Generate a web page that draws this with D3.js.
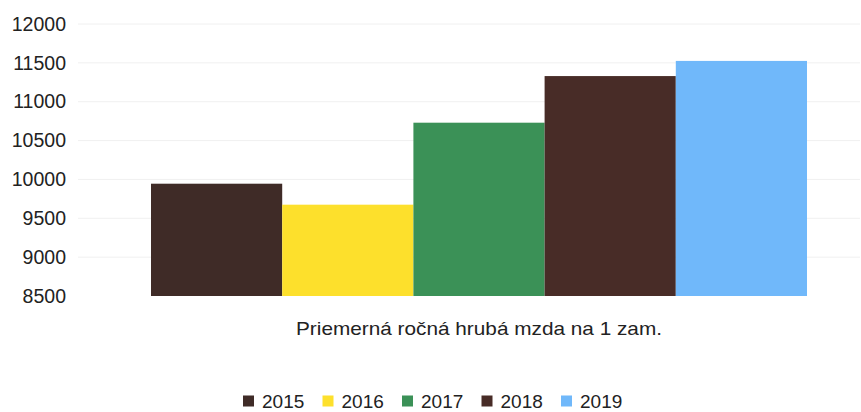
<!DOCTYPE html>
<html>
<head>
<meta charset="utf-8">
<script src="https://cdn.jsdelivr.net/npm/d3@7"></script>
<style>
  body { margin: 0; background: #fff; }
  svg text { font-family: "Liberation Sans", Arial, sans-serif; fill: #222; }
</style>
</head>
<body>
<svg id="chart" width="861" height="412"></svg>
<script>
// data
const category = ['Priemerná ročná hrubá mzda na 1 zam.'];
const years = ['2015', '2016', '2017', '2018', '2019'];
const values = [9945, 9675, 10730, 11330, 11525];
const colors = ['#3f2b27', '#fde02c', '#3b9157', '#482c27', '#70b8fa'];
const yTicks = [8500, 9000, 9500, 10000, 10500, 11000, 11500, 12000];

const svg = d3.select('#chart');
const plotL = 98, plotR = 860, plotT = 24, plotB = 296;

const y = d3.scaleLinear().domain([8500, 12000]).range([plotB, plotT]);
const x0 = d3.scaleBand().domain(category).range([plotL, plotR])
  .paddingInner(0).paddingOuter(0.0808);
const x1 = d3.scaleBand().domain(years).range([0, x0.bandwidth()]).padding(0);

// faint grid
svg.append('g')
  .selectAll('line')
  .data(yTicks.slice(1))
  .join('line')
  .attr('x1', 78).attr('x2', plotR)
  .attr('y1', d => y(d)).attr('y2', d => y(d))
  .attr('stroke', '#f0f0f0').attr('stroke-width', 1);

// y axis labels
const yAxis = d3.axisLeft(y).tickValues(yTicks).tickFormat(d3.format('d'))
  .tickSize(0).tickPadding(0);
svg.append('g')
  .attr('transform', 'translate(66,0)')
  .call(yAxis)
  .call(g => g.select('.domain').remove())
  .selectAll('text')
  .attr('font-size', '19.5px')
  .attr('font-family', '"Liberation Sans", Arial, sans-serif')
  .attr('fill', '#222');

// bars
const grp = svg.append('g')
  .selectAll('g')
  .data(category)
  .join('g')
  .attr('transform', d => `translate(${x0(d)},0)`);

grp.selectAll('rect')
  .data(years.map((yr, i) => ({yr, v: values[i], c: colors[i]})))
  .join('rect')
  .attr('x', d => x1(d.yr))
  .attr('width', x1.bandwidth())
  .attr('y', d => y(d.v))
  .attr('height', d => y(8500) - y(d.v))
  .attr('fill', d => d.c);

// category label
svg.append('text')
  .attr('x', x0(category[0]) + x0.bandwidth() / 2)
  .attr('y', 335)
  .attr('text-anchor', 'middle')
  .attr('font-size', '19px')
  .attr('textLength', 366)
  .attr('lengthAdjust', 'spacingAndGlyphs')
  .text(category[0]);

// legend
const leg = svg.append('g')
  .selectAll('g')
  .data(years)
  .join('g')
  .attr('transform', (d, i) => `translate(${243 + i * 79.5},401)`);

leg.append('rect')
  .attr('x', 0).attr('y', -5.5)
  .attr('width', 11).attr('height', 11)
  .attr('fill', (d, i) => colors[i]);

leg.append('text')
  .attr('x', 19).attr('y', 7)
  .attr('font-size', '19px')
  .text(d => d);
</script>
</body>
</html>
